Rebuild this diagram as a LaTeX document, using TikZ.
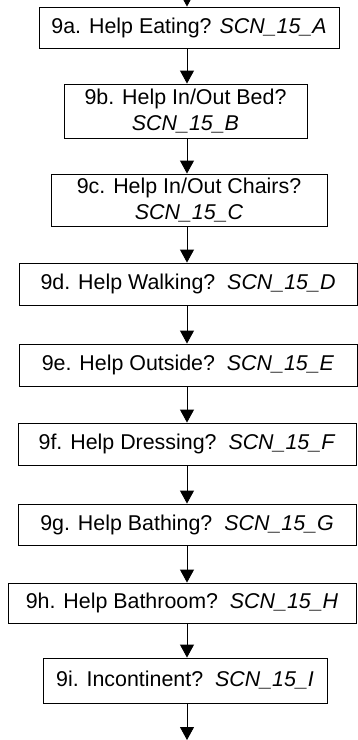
\documentclass[tikz,border=0pt]{standalone}
\usepackage{fontspec}
\setmainfont{Liberation Sans}
\usetikzlibrary{arrows.meta}

\begin{document}
\begin{tikzpicture}[x=1pt, y=-1pt, >={Triangle[width=14pt,length=13pt]}, line width=0.9pt]
    \tikzstyle{qbox}=[rectangle, draw, inner sep=0pt, align=center, font=\fontsize{21.4}{26}\selectfont]
    \useasboundingbox (0,0) rectangle (358,740);

    \coordinate (spine) at (187,0);
    \coordinate (top) at (187,-40);
    \coordinate (bot) at (187,740);

    \node[qbox, minimum width=300pt, minimum height=41pt] (a) at (189,27.5) {9a. Help Eating? \textit{SCN\_15\_A}};
    \node[qbox, minimum width=243pt, minimum height=54pt] (b) at (185.5,111) {9b. Help In/Out Bed?\\ \textit{SCN\_15\_B}};
    \node[qbox, minimum width=276pt, minimum height=52pt] (c) at (189,200) {9c. Help In/Out Chairs?\\ \textit{SCN\_15\_C}};
    \node[qbox, minimum width=338pt, minimum height=42pt] (d) at (188,284) {9d. Help Walking?\ \ \textit{SCN\_15\_D}};
    \node[qbox, minimum width=338pt, minimum height=42pt] (e) at (188,365) {9e. Help Outside?\ \ \textit{SCN\_15\_E}};
    \node[qbox, minimum width=338pt, minimum height=42pt] (f) at (187,444) {9f. Help Dressing?\ \ \textit{SCN\_15\_F}};
    \node[qbox, minimum width=338pt, minimum height=41pt] (g) at (187,524.5) {9g. Help Bathing?\ \ \textit{SCN\_15\_G}};
    \node[qbox, minimum width=348pt, minimum height=40pt] (h) at (182,603) {9h. Help Bathroom?\ \ \textit{SCN\_15\_H}};
    \node[qbox, minimum width=284pt, minimum height=45pt] (i) at (185,680.5) {9i. Incontinent?\ \ \textit{SCN\_15\_I}};

    \draw[->] (top) -- (a.north -| spine);
    \foreach \u/\v in {a/b, b/c, c/d, d/e, e/f, f/g, g/h, h/i}
        \draw[->] (\u.south -| spine) -- (\v.north -| spine);
    \draw[->] (i.south -| spine) -- (bot);

\end{tikzpicture}
\end{document}
